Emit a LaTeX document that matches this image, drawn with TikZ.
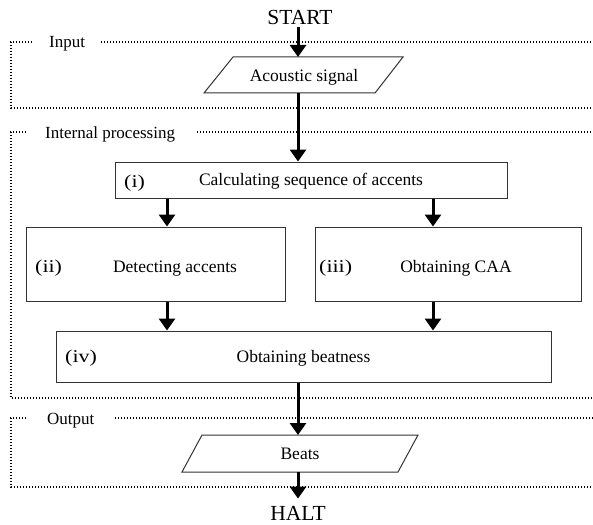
\documentclass[tikz,border=0pt]{standalone}
\usepackage{fontspec}
\usepackage{graphicx}
\setmainfont{Liberation Serif}
\usetikzlibrary{arrows.meta}
\begin{document}
\begin{tikzpicture}[x=1pt,y=-1pt,
  box/.style={draw=black!80, line width=1pt, inner sep=0pt, anchor=center},
  shapeline/.style={draw=black!80, line width=1pt},
  txt/.style={font=\fontsize{17.5}{20}\selectfont, anchor=base, inner sep=0pt},
  lbl/.style={font=\fontsize{18}{21}\selectfont, anchor=base west, inner sep=0pt},
  glbl/.style={font=\fontsize{17}{20}\selectfont, anchor=base west, inner sep=0pt},
  term/.style={font=\fontsize{21.5}{24}\selectfont, anchor=base, inner sep=0pt},
  grp/.style={line width=1.4pt, dash pattern=on 1.4pt off 1.6pt},
  arr/.style={line width=3pt, -{Triangle[width=16pt,length=12pt]}}]
\useasboundingbox (0,0) rectangle (593,524);

% column coordinates
\coordinate (xc) at (298,0);
\coordinate (xl) at (167,0);
\coordinate (xr) at (433,0);

% group frames
\node[glbl] (ginput) at (49,48) {Input};
\draw[grp] (32,42) -- (11,42) -- (11,108) -- (593,108);
\draw[grp] (101,42) -- (593,42);
\node[glbl] (gint) at (45,138) {Internal processing};
\draw[grp] (26,132) -- (11,132) -- (11,398) -- (593,398);
\draw[grp] (197,132) -- (593,132);
\node[glbl] (gout) at (47,424) {Output};
\draw[grp] (26,418) -- (11,418) -- (11,487) -- (593,487);
\draw[grp] (115,418) -- (593,418);

% terminals
\node[term] (start) at (300,25) {START};
\node[term] (halt) at (298,520) {HALT};

% input parallelogram
\draw[shapeline] (233,57) -- (403,57) -- (375,93) -- (204,93) -- cycle;
\coordinate (acTop) at (298,57);
\coordinate (acBot) at (298,93);
\node[txt] (ac) at (304,82) {Acoustic signal};

% boxes
\node[box, minimum width=392pt, minimum height=36pt] (b1) at (311,180) {};
\node[lbl] (l1) at (124,187) {\scalebox{1.22}[1]{(i)}};
\node[txt] (t1) at (311,185) {Calculating sequence of accents};

\node[box, minimum width=259pt, minimum height=74pt] (b2) at (155.5,264) {};
\node[lbl] (l2) at (35,272) {\scalebox{1.22}[1]{(ii)}};
\node[txt] (t2) at (175,272) {Detecting accents};

\node[box, minimum width=266pt, minimum height=74pt] (b3) at (448,264) {};
\node[lbl] (l3) at (319,272) {\scalebox{1.22}[1]{(iii)}};
\node[txt] (t3) at (456,272) {Obtaining CAA};

\node[box, minimum width=495pt, minimum height=51pt] (b4) at (303.5,356.5) {};
\node[lbl] (l4) at (65,362) {\scalebox{1.22}[1]{(iv)}};
\node[txt] (t4) at (303.5,362) {Obtaining beatness};

% output parallelogram
\draw[shapeline] (202,435) -- (418,435) -- (398,472) -- (182,472) -- cycle;
\coordinate (btTop) at (298,435);
\coordinate (btBot) at (298,472);
\node[txt] (bt) at (300,459) {Beats};

% arrows
\draw[arr] ([yshift=-2pt]start.south -| xc) -- (acTop);
\draw[arr] (acBot) -- (b1.north -| xc);
\draw[arr] (b1.south -| xl) -- (b2.north -| xl);
\draw[arr] (b1.south -| xr) -- (b3.north -| xr);
\draw[arr] (b2.south -| xl) -- (b4.north -| xl);
\draw[arr] (b3.south -| xr) -- (b4.north -| xr);
\draw[arr] (b4.south -| xc) -- (btTop);
\draw[arr] (btBot) -- ([yshift=7pt]halt.north -| xc);
\end{tikzpicture}
\end{document}
